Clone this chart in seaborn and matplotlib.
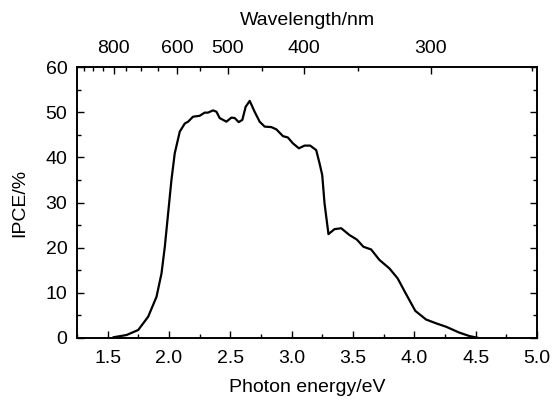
import numpy as np
import pandas as pd
import matplotlib
matplotlib.use("Agg")
import matplotlib.pyplot as plt
import seaborn as sns
from matplotlib.ticker import MultipleLocator, FixedLocator

# Data
energy_eV = [1.545, 1.654, 1.749, 1.83, 1.898, 1.939, 1.966, 1.993, 2.02, 2.047,
             2.088, 2.129, 2.156, 2.196, 2.25, 2.291, 2.318, 2.359, 2.387, 2.413,
             2.468, 2.509, 2.536, 2.568, 2.598, 2.625, 2.658, 2.698, 2.739, 2.78,
             2.834, 2.875, 2.929, 2.969, 3.01, 3.059, 3.105, 3.151, 3.2, 3.227,
             3.249, 3.268, 3.3, 3.349, 3.404, 3.471, 3.531, 3.585, 3.648, 3.715,
             3.797, 3.864, 3.933, 4.008, 4.095, 4.177, 4.258, 4.366, 4.448, 4.523]
ipce_pct = [0.15, 0.66, 1.77, 4.7, 9.1, 14.3, 20.2, 27.6, 35.0, 40.9,
            45.7, 47.5, 47.9, 49.0, 49.2, 49.9, 49.9, 50.4, 50.1, 48.7,
            47.9, 48.8, 48.7, 47.8, 48.3, 51.2, 52.5, 50.1, 47.9, 46.8,
            46.7, 46.2, 44.7, 44.4, 43.1, 42.0, 42.6, 42.6, 41.6, 38.7,
            36.1, 29.8, 23.0, 24.1, 24.3, 22.8, 21.8, 20.2, 19.6, 17.3,
            15.4, 13.2, 9.7, 6.0, 4.1, 3.25, 2.5, 1.2, 0.44, 0.0]

x_ticks = [1.5, 2.0, 2.5, 3.0, 3.5, 4.0, 4.5, 5.0]
y_ticks = [0, 10, 20, 30, 40, 50, 60]
wl_major = [800, 600, 500, 400, 300]
wl_major_labels = ["800", "600", "500", "400", "300"]
wl_minor = [950, 900, 850, 750, 700, 650, 550, 450, 350, 250]

df = pd.DataFrame({"E": energy_eV, "IPCE": ipce_pct})

sns.set_style("ticks")
plt.rcParams["font.family"] = ["Liberation Sans", "DejaVu Sans"]
plt.rcParams["text.color"] = "black"
plt.rcParams["axes.labelcolor"] = "black"
plt.rcParams["xtick.color"] = "black"
plt.rcParams["ytick.color"] = "black"
plt.rcParams["axes.edgecolor"] = "black"
FS = 14

fig = plt.figure(figsize=(5.55, 4.03), dpi=100)
ax = fig.add_axes([0.1387, 0.1613, 0.9676 - 0.1387, 0.8337 - 0.1613])

sns.lineplot(data=df, x="E", y="IPCE", ax=ax, color="black", linewidth=1.6)

ax.set_xlim(1.25, 5.0)
ax.set_ylim(0, 60)
ax.set_xticks(x_ticks)
ax.set_xticklabels([f"{v:.1f}" for v in x_ticks])
ax.set_yticks(y_ticks)
ax.xaxis.set_minor_locator(MultipleLocator(0.25))
ax.yaxis.set_minor_locator(MultipleLocator(5))
ax.set_xlabel("Photon energy/eV", fontsize=FS, labelpad=8, color="black")
ax.set_ylabel("IPCE/%", fontsize=FS, labelpad=12, color="black")
ax.tick_params(which="both", direction="in", right=True, labelsize=FS, width=1.0,
               color="black", labelcolor="black")
ax.tick_params(axis="x", which="major", length=5, pad=9)
ax.tick_params(axis="y", which="major", length=5, pad=7)
ax.tick_params(which="minor", length=3)
for s in ax.spines.values():
    s.set_visible(True)
    s.set_linewidth(1.2)
    s.set_color("black")

ax2 = ax.twiny()
ax2.set_xlim(ax.get_xlim())
ax2.set_xticks([1240.0 / w for w in wl_major])
ax2.set_xticklabels(wl_major_labels)
ax2.xaxis.set_minor_locator(FixedLocator([1240.0 / w for w in wl_minor]))
ax2.set_xlabel("Wavelength/nm", fontsize=FS, labelpad=11, color="black")
ax2.tick_params(which="both", direction="in", labelsize=FS, width=1.0,
                color="black", labelcolor="black")
ax2.tick_params(which="major", length=5, pad=7)
ax2.tick_params(which="minor", length=3)
for s in ax2.spines.values():
    s.set_linewidth(1.2)
    s.set_color("black")

fig.savefig("out.png", dpi=100)
